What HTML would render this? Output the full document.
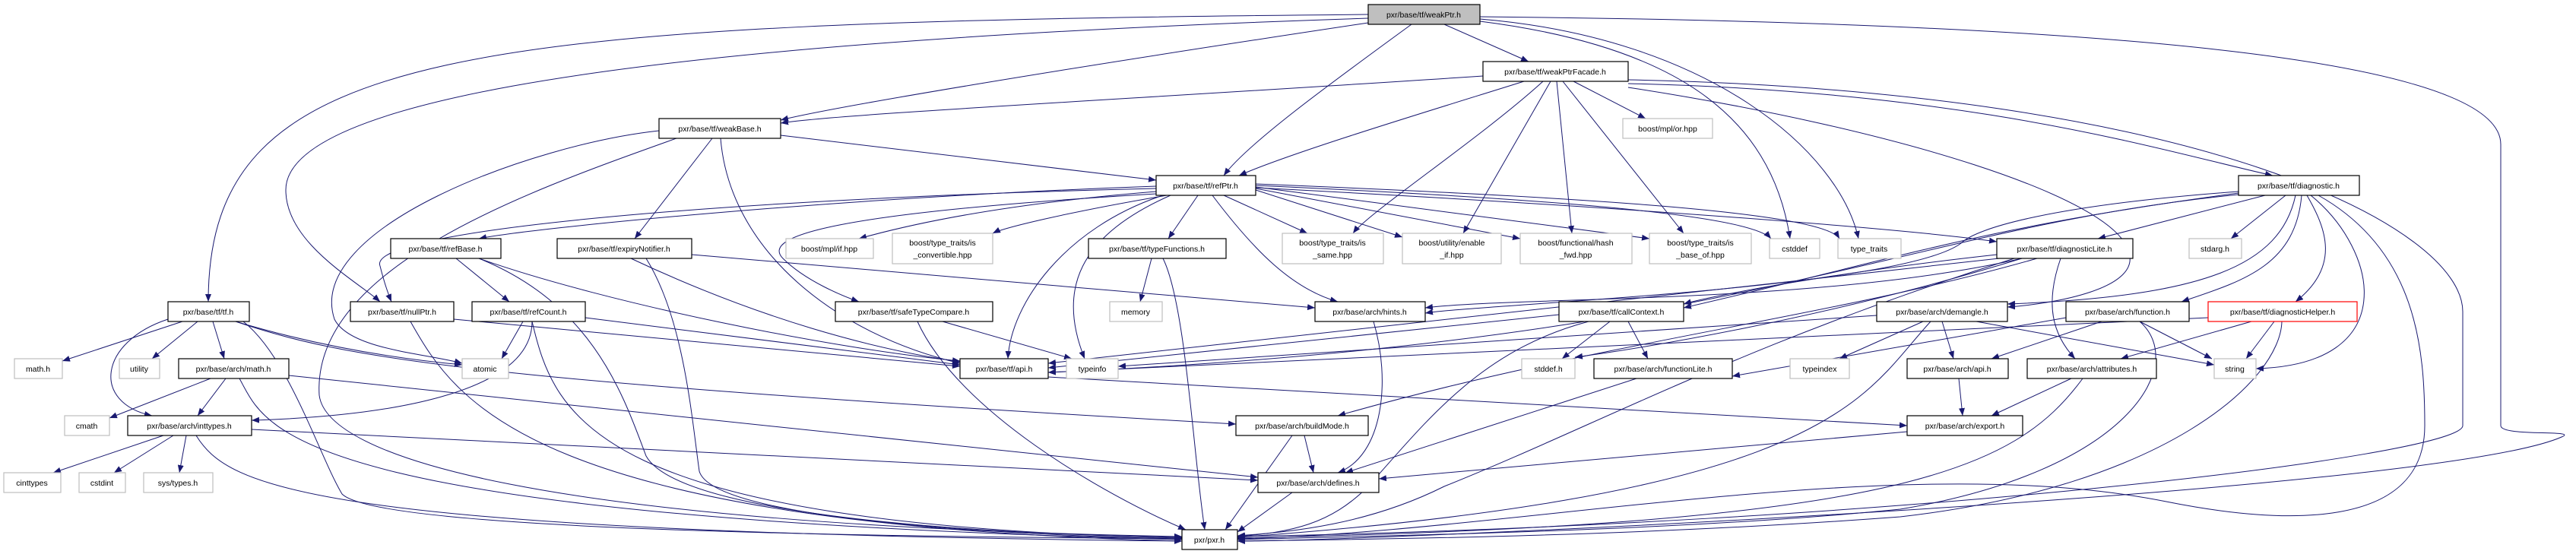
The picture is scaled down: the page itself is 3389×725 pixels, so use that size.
<!DOCTYPE html>
<html><head><meta charset="utf-8"><style>
html,body{margin:0;padding:0;background:#fff;}
svg{display:block;}
text{font-family:"Liberation Sans",sans-serif;font-size:10.5px;fill:#000;}
.e{fill:none;stroke:#191970;stroke-width:1;marker-end:url(#a);}
.n{fill:#fff;stroke:#000;stroke-width:1.2;}
.g{fill:#fff;stroke:#bfbfbf;stroke-width:1.2;}
</style></head><body>
<svg width="3389" height="725" viewBox="0 0 3389 725" xmlns="http://www.w3.org/2000/svg">
<defs><marker id="a" markerUnits="userSpaceOnUse" markerWidth="10" markerHeight="8" refX="10" refY="4" orient="auto"><polygon points="0,0 10,4 0,8" fill="#191970"/></marker></defs>
<g>
<!-- weakPtr -->
<path class="e" d="M1800 19 C 600 30 274 60 274 397"/>
<path class="e" d="M1800 24 C 700 60 376 150 376 250 C 376 320 470 370 500 397"/>
<path class="e" d="M1800 30 C 1400 90 1100 140 1027 158"/>
<path class="e" d="M1857 32 C 1750 110 1640 190 1610 231"/>
<path class="e" d="M1900 32 L 2011 81"/>
<path class="e" d="M1947 28 C 2200 60 2330 150 2355 314"/>
<path class="e" d="M1947 25 C 2250 50 2420 200 2445 314"/>
<path class="e" d="M1947 22 C 2800 30 3290 80 3290 190 L 3290 560 C 3290 575 3395 565 3370 575 C 3200 650 1800 712 1628 712"/>
<!-- facade -->
<path class="e" d="M1951 100 C 1500 130 1100 150 1027 162"/>
<path class="e" d="M2005 107 C 1900 140 1700 200 1630 231"/>
<path class="e" d="M2030 107 C 1950 180 1800 280 1780 307"/>
<path class="e" d="M2040 107 L 1925 307"/>
<path class="e" d="M2048 107 L 2068 307"/>
<path class="e" d="M2056 107 L 2215 307"/>
<path class="e" d="M2070 107 L 2165 156"/>
<path class="e" d="M2142 110 C 2600 120 2850 200 2990 231"/>
<path class="e" d="M2142 115 C 2500 170 2780 260 2800 330 C 2820 380 2700 400 2641 404"/>
<path class="e" d="M2142 105 C 2900 120 3240 300 3240 410 L 3240 560 C 3240 600 2500 690 1628 706"/>
<!-- weakBase -->
<path class="e" d="M1027 178 L 1521 237"/>
<path class="e" d="M937 182 L 835 314"/>
<path class="e" d="M948 182 C 960 330 1100 440 1263 478"/>
<path class="e" d="M867 172 C 700 190 400 300 440 420 C 460 460 560 465 608 478"/>
<path class="e" d="M890 182 C 700 250 410 350 420 520 C 430 600 700 690 1555 706"/>
<!-- refPtr -->
<path class="e" d="M1521 245 C 1100 260 700 300 630 314"/>
<path class="e" d="M1521 248 C 1000 260 480 300 500 350 C 505 370 510 385 515 397"/>
<path class="e" d="M1521 252 C 1300 270 1180 300 1130 314"/>
<path class="e" d="M1535 257 C 1400 280 1320 300 1306 307"/>
<path class="e" d="M1521 255 C 1100 280 1000 310 1030 340 C 1060 370 1110 390 1130 397"/>
<path class="e" d="M1576 257 L 1537 314"/>
<path class="e" d="M1530 257 C 1400 300 1330 400 1326 472"/>
<path class="e" d="M1540 257 C 1420 310 1390 380 1427 472"/>
<path class="e" d="M1595 257 C 1650 330 1700 380 1760 397"/>
<path class="e" d="M1610 257 L 1720 307"/>
<path class="e" d="M1652 250 L 1845 312"/>
<path class="e" d="M1652 248 L 2000 314"/>
<path class="e" d="M1652 246 L 2170 314"/>
<path class="e" d="M1652 244 C 2000 260 2300 280 2330 314"/>
<path class="e" d="M1652 242 C 2100 260 2400 280 2420 314"/>
<path class="e" d="M1652 247 C 2100 270 2500 300 2627 318"/>
<!-- refBase, refCount, expiry, nullPtr -->
<path class="e" d="M600 340 L 670 397"/>
<path class="e" d="M630 340 C 800 400 1100 460 1263 475"/>
<path class="e" d="M630 340 C 780 400 820 520 850 600 C 900 690 1400 705 1555 707"/>
<path class="e" d="M688 423 L 660 472"/>
<path class="e" d="M700 423 C 700 520 500 548 331 553"/>
<path class="e" d="M770 418 L 1263 480"/>
<path class="e" d="M700 423 C 730 550 780 690 1555 708"/>
<path class="e" d="M830 340 C 1000 420 1150 460 1263 476"/>
<path class="e" d="M910 335 L 1730 405"/>
<path class="e" d="M850 340 C 900 420 910 550 920 620 C 940 690 1400 706 1555 709"/>
<path class="e" d="M597 420 L 1263 482"/>
<path class="e" d="M540 423 C 600 530 700 690 1555 712"/>
<!-- tf.h -->
<path class="e" d="M240 423 L 82 475"/>
<path class="e" d="M260 423 L 200 472"/>
<path class="e" d="M280 423 L 295 472"/>
<path class="e" d="M221 420 C 130 450 120 530 200 547"/>
<path class="e" d="M310 423 C 400 450 500 470 608 480"/>
<path class="e" d="M310 423 C 450 470 600 500 1626 558"/>
<path class="e" d="M320 423 C 380 470 420 600 450 650 C 500 700 1200 706 1555 709"/>
<!-- archmath, inttypes -->
<path class="e" d="M277 498 L 144 550"/>
<path class="e" d="M297 498 L 260 547"/>
<path class="e" d="M380 494 L 1655 628"/>
<path class="e" d="M315 498 C 350 560 360 680 1555 710"/>
<path class="e" d="M215 573 L 70 622"/>
<path class="e" d="M228 573 L 150 622"/>
<path class="e" d="M245 573 L 236 622"/>
<path class="e" d="M331 565 L 1655 632"/>
<path class="e" d="M258 573 C 300 640 400 700 1555 712"/>
<!-- middle -->
<path class="e" d="M1515 340 L 1500 397"/>
<path class="e" d="M1530 340 C 1560 400 1570 600 1585 697"/>
<path class="e" d="M1240 423 L 1410 472"/>
<path class="e" d="M1207 423 C 1260 540 1450 650 1560 697"/>
<path class="e" d="M1379 496 L 2509 560"/>
<path class="e" d="M1807 423 C 1830 500 1820 600 1760 622"/>
<path class="e" d="M1716 573 L 1728 622"/>
<path class="e" d="M1700 573 L 1612 697"/>
<path class="e" d="M1700 648 L 1628 700"/>
<path class="e" d="M2509 568 L 1814 630"/>
<path class="e" d="M2118 423 L 2055 472"/>
<path class="e" d="M2142 423 L 2168 472"/>
<path class="e" d="M2051 414 L 1379 484"/>
<path class="e" d="M2090 423 C 1950 460 1880 550 1800 640 C 1750 690 1700 700 1628 706"/>
<path class="e" d="M2153 498 L 1770 622"/>
<!-- demangle, archapi, attributes -->
<path class="e" d="M2530 423 L 2420 472"/>
<path class="e" d="M2555 423 L 2570 472"/>
<path class="e" d="M2600 423 L 2913 480"/>
<path class="e" d="M2469 415 L 1471 482"/>
<path class="e" d="M2540 423 C 2450 520 2420 650 1628 707"/>
<path class="e" d="M2577 498 L 2582 547"/>
<path class="e" d="M2725 498 L 2620 547"/>
<path class="e" d="M2740 498 C 2650 620 2500 690 1628 708"/>
<!-- diagLite -->
<path class="e" d="M2627 335 C 2400 360 2250 390 2215 400"/>
<path class="e" d="M2660 340 C 2400 400 2000 390 1875 405"/>
<path class="e" d="M2711 340 C 2690 400 2700 440 2730 472"/>
<path class="e" d="M2630 340 L 1379 478"/>
<path class="e" d="M2660 340 C 2400 420 2150 460 2072 470"/>
<path class="e" d="M2680 340 C 2400 420 2100 450 1760 547"/>
<path class="e" d="M2650 340 C 2300 450 2100 560 1900 640 C 1800 690 1700 700 1628 705"/>
<!-- diagnostic -->
<path class="e" d="M2980 257 L 2760 314"/>
<path class="e" d="M3007 257 L 2935 314"/>
<path class="e" d="M3028 257 C 3020 350 2950 370 2870 397"/>
<path class="e" d="M3035 257 C 3060 300 3080 350 3020 397"/>
<path class="e" d="M3040 257 C 3130 330 3160 480 2968 485"/>
<path class="e" d="M3050 257 C 3180 330 3190 460 3190 560 C 3190 700 3000 690 2850 660 C 2500 590 2000 700 1628 709"/>
<path class="e" d="M3020 257 C 3000 350 2900 390 2641 400"/>
<path class="e" d="M2945 252 C 2700 270 2600 300 2580 320 C 2500 380 1950 400 1875 412"/>
<path class="e" d="M2945 254 C 2600 300 2500 340 2215 405"/>
<path class="e" d="M2945 256 C 2500 300 2300 450 1379 490"/>
<!-- function, diagHelper -->
<path class="e" d="M2718 418 L 2279 495"/>
<path class="e" d="M2765 423 L 2620 472"/>
<path class="e" d="M2815 423 L 2910 472"/>
<path class="e" d="M2815 423 C 2880 480 2800 620 2500 670 C 2200 700 1800 705 1628 710"/>
<path class="e" d="M2962 423 L 2790 472"/>
<path class="e" d="M2992 423 L 2955 472"/>
<path class="e" d="M3002 423 C 3000 500 2850 640 2500 680 C 2100 710 1700 710 1628 712"/>
<path class="e" d="M2905 418 L 1379 490"/>
</g>
<g text-anchor="middle">
<rect x="1800" y="6" width="147" height="26" fill="#bfbfbf" stroke="#000" stroke-width="1.2"/><text x="1873" y="23">pxr/base/tf/weakPtr.h</text>
<rect class="n" x="1951" y="81" width="191" height="26"/><text x="2046" y="98">pxr/base/tf/weakPtrFacade.h</text>
<rect class="n" x="867" y="156" width="160" height="26"/><text x="947" y="173">pxr/base/tf/weakBase.h</text>
<rect class="g" x="2135" y="156" width="118" height="26"/><text x="2194" y="173">boost/mpl/or.hpp</text>
<rect class="n" x="1521" y="231" width="131" height="26"/><text x="1586" y="248">pxr/base/tf/refPtr.h</text>
<rect class="n" x="2945" y="231" width="159" height="26"/><text x="3024" y="248">pxr/base/tf/diagnostic.h</text>
<rect class="n" x="514" y="314" width="145" height="26"/><text x="586" y="331">pxr/base/tf/refBase.h</text>
<rect class="n" x="733" y="314" width="177" height="26"/><text x="821" y="331">pxr/base/tf/expiryNotifier.h</text>
<rect class="g" x="1034" y="314" width="115" height="26"/><text x="1091" y="331">boost/mpl/if.hpp</text>
<rect class="g" x="1174" y="307" width="132" height="40"/><text x="1240" y="323">boost/type_traits/is</text><text x="1240" y="339">_convertible.hpp</text>
<rect class="n" x="1432" y="314" width="181" height="26"/><text x="1522" y="331">pxr/base/tf/typeFunctions.h</text>
<rect class="g" x="1687" y="307" width="133" height="40"/><text x="1753" y="323">boost/type_traits/is</text><text x="1753" y="339">_same.hpp</text>
<rect class="g" x="1845" y="307" width="130" height="40"/><text x="1910" y="323">boost/utility/enable</text><text x="1910" y="339">_if.hpp</text>
<rect class="g" x="2000" y="307" width="147" height="40"/><text x="2073" y="323">boost/functional/hash</text><text x="2073" y="339">_fwd.hpp</text>
<rect class="g" x="2170" y="307" width="134" height="40"/><text x="2237" y="323">boost/type_traits/is</text><text x="2237" y="339">_base_of.hpp</text>
<rect class="g" x="2328" y="314" width="66" height="26"/><text x="2361" y="331">cstddef</text>
<rect class="g" x="2418" y="314" width="83" height="26"/><text x="2459" y="331">type_traits</text>
<rect class="n" x="2627" y="314" width="179" height="26"/><text x="2716" y="331">pxr/base/tf/diagnosticLite.h</text>
<rect class="g" x="2880" y="314" width="69" height="26"/><text x="2914" y="331">stdarg.h</text>
<rect class="n" x="221" y="397" width="107" height="26"/><text x="274" y="414">pxr/base/tf/tf.h</text>
<rect class="n" x="461" y="397" width="136" height="26"/><text x="529" y="414">pxr/base/tf/nullPtr.h</text>
<rect class="n" x="621" y="397" width="149" height="26"/><text x="695" y="414">pxr/base/tf/refCount.h</text>
<rect class="n" x="1099" y="397" width="207" height="26"/><text x="1202" y="414">pxr/base/tf/safeTypeCompare.h</text>
<rect class="g" x="1460" y="397" width="69" height="26"/><text x="1494" y="414">memory</text>
<rect class="n" x="1730" y="397" width="145" height="26"/><text x="1802" y="414">pxr/base/arch/hints.h</text>
<rect class="n" x="2051" y="397" width="164" height="26"/><text x="2133" y="414">pxr/base/tf/callContext.h</text>
<rect class="n" x="2469" y="397" width="172" height="26"/><text x="2555" y="414">pxr/base/arch/demangle.h</text>
<rect class="n" x="2718" y="397" width="162" height="26"/><text x="2799" y="414">pxr/base/arch/function.h</text>
<rect x="2905" y="397" width="196" height="26" fill="#fff" stroke="#ff0000" stroke-width="1.2"/><text x="3003" y="414">pxr/base/tf/diagnosticHelper.h</text>
<rect class="g" x="19" y="472" width="63" height="26"/><text x="50" y="489">math.h</text>
<rect class="g" x="157" y="472" width="53" height="26"/><text x="183" y="489">utility</text>
<rect class="n" x="235" y="472" width="145" height="26"/><text x="307" y="489">pxr/base/arch/math.h</text>
<rect class="g" x="608" y="472" width="61" height="26"/><text x="638" y="489">atomic</text>
<rect class="n" x="1263" y="472" width="116" height="26"/><text x="1321" y="489">pxr/base/tf/api.h</text>
<rect class="g" x="1403" y="472" width="68" height="26"/><text x="1437" y="489">typeinfo</text>
<rect class="g" x="2002" y="472" width="70" height="26"/><text x="2037" y="489">stddef.h</text>
<rect class="n" x="2097" y="472" width="182" height="26"/><text x="2188" y="489">pxr/base/arch/functionLite.h</text>
<rect class="g" x="2355" y="472" width="78" height="26"/><text x="2394" y="489">typeindex</text>
<rect class="n" x="2509" y="472" width="133" height="26"/><text x="2575" y="489">pxr/base/arch/api.h</text>
<rect class="n" x="2667" y="472" width="170" height="26"/><text x="2752" y="489">pxr/base/arch/attributes.h</text>
<rect class="g" x="2913" y="472" width="55" height="26"/><text x="2940" y="489">string</text>
<rect class="g" x="85" y="547" width="59" height="26"/><text x="114" y="564">cmath</text>
<rect class="n" x="168" y="547" width="163" height="26"/><text x="249" y="564">pxr/base/arch/inttypes.h</text>
<rect class="n" x="1626" y="547" width="174" height="26"/><text x="1713" y="564">pxr/base/arch/buildMode.h</text>
<rect class="n" x="2509" y="547" width="152" height="26"/><text x="2585" y="564">pxr/base/arch/export.h</text>
<rect class="g" x="5" y="622" width="75" height="26"/><text x="42" y="639">cinttypes</text>
<rect class="g" x="104" y="622" width="61" height="26"/><text x="134" y="639">cstdint</text>
<rect class="g" x="189" y="622" width="91" height="26"/><text x="234" y="639">sys/types.h</text>
<rect class="n" x="1655" y="622" width="159" height="26"/><text x="1734" y="639">pxr/base/arch/defines.h</text>
<rect class="n" x="1555" y="697" width="73" height="26"/><text x="1591" y="714">pxr/pxr.h</text>
</g>
</svg>
</body></html>
